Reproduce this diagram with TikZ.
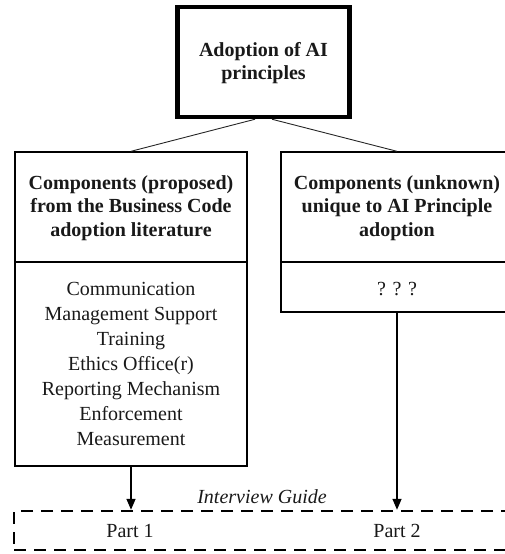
\documentclass[tikz,border=0pt]{standalone}
\usepackage{fontspec}
\setmainfont{Liberation Serif}
\usetikzlibrary{arrows.meta}
\begin{document}
\begin{tikzpicture}[x=1pt,y=-1pt,
  txt/.style={text=black!90, inner sep=0pt, align=center},
  headfont/.style={font=\fontsize{20}{23.5}\selectfont\bfseries},
  bodyfont/.style={font=\fontsize{20}{25}\selectfont},
  box/.style={draw=black, line width=1.4pt, rectangle, inner sep=0pt},
  titlebox/.style={draw=black, line width=4.5pt, rectangle, inner sep=0pt},
  link/.style={draw=black!85, line width=0.9pt},
  arr/.style={draw=black, line width=1.4pt, -{Triangle[width=9pt,length=11pt]}},
  guidebox/.style={draw=black, line width=2.4pt, dash pattern=on 12pt off 8pt, rectangle, inner sep=0pt}
]
\useasboundingbox (0,0) rectangle (505,554);
\clip (0,0) rectangle (505,554);

% title
\node[titlebox, minimum width=172pt, minimum height=110pt] (title) at (263.5,62) {};
\node[txt, headfont] (titletext) at (263.5,63) {Adoption of AI\\principles};

% left column
\node[box, minimum width=232pt, minimum height=110pt] (lhead) at (131,207) {};
\node[txt, headfont] (lheadtext) at (131,208) {Components (proposed)\\from the Business Code\\adoption literature};
\node[box, minimum width=232pt, minimum height=204pt] (lbody) at (131,364) {};
\node[txt, bodyfont] (lbodytext) at (131,364) {Communication\\Management Support\\Training\\Ethics Office(r)\\Reporting Mechanism\\Enforcement\\Measurement};

% right column
\node[box, minimum width=232pt, minimum height=110pt] (rhead) at (397,207) {};
\node[txt, headfont] (rheadtext) at (397,208) {Components (unknown)\\unique to AI Principle\\adoption};
\node[box, minimum width=232pt, minimum height=50pt] (rbody) at (397,287) {};
\node[txt, bodyfont] (rbodytext) at (397,289) {? ? ?};

% interview guide
\node[guidebox, minimum width=510pt, minimum height=39pt] (guide) at (269,530.5) {};
\node[txt, bodyfont, font=\fontsize{20}{25}\selectfont\itshape] (guidelabel) at (262,497) {Interview Guide};
\node[txt, bodyfont] (part1) at (130,531) {Part 1};
\node[txt, bodyfont] (part2) at (397,531) {Part 2};

% connectors
\draw[link] ([xshift=-8.5pt]title.south) -- (lhead.north);
\draw[link] ([xshift=8.5pt]title.south) -- (rhead.north);
\draw[arr] (lbody.south) -- (lbody.south |- guide.north);
\draw[arr] (rbody.south) -- (rbody.south |- guide.north);
\end{tikzpicture}
\end{document}
